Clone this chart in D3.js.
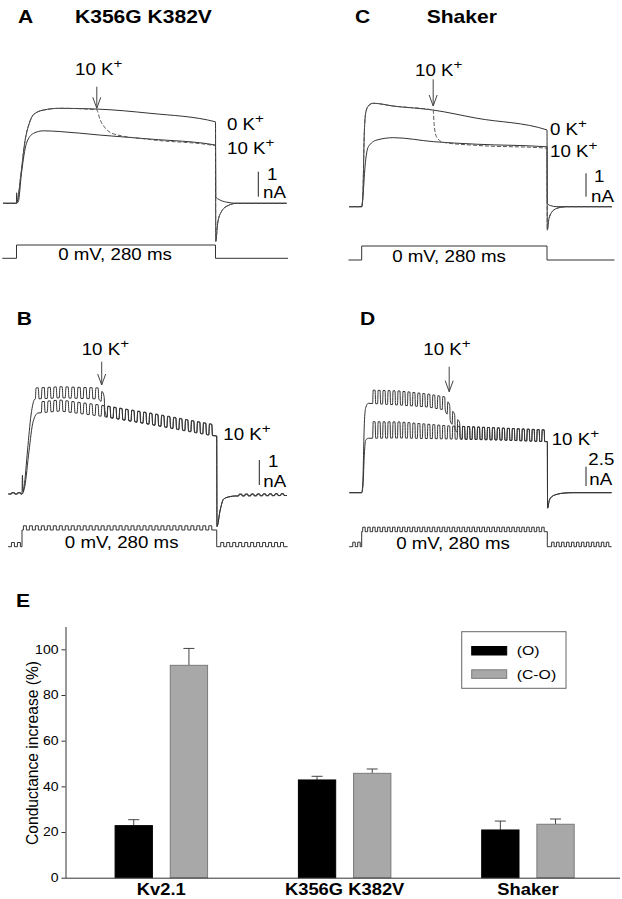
<!DOCTYPE html>
<html>
<head>
<meta charset="utf-8">
<script src="https://cdn.jsdelivr.net/npm/d3@7"></script>
<style>
body { margin: 0; background: #fff; }
svg { display: block; }
text { font-family: "Liberation Sans", Arial, sans-serif; fill: #000; }
</style>
</head>
<body>
<script>
const W = 622, H = 899
const SX = 1.17 // the original figure is stretched sideways, type too

// ---- current traces, [time ms, current nA] ----
// A: K356G K382V, continuous step
const aZeroK = [[-19,0],[0,0],[0.2,0.42],[0.6,0.04],[1.2,0.08],[6,1.1],[12,2.5],[18,3.2],[24,3.55],[38,3.73],[61,3.8],[113,3.77],[188,3.6],[280,3.26],[280.4,0.25],[285,0.15],[295,0.05],[310,0],[380,0]]
const aTenK = [[-19,0],[0,0],[2.5,0.06],[7,1.2],[14,2.4],[24,2.8],[38,2.9],[61,2.87],[117,2.73],[188,2.57],[280,2.33],[280.4,-1.53],[283,-0.8],[288,-0.35],[297,-0.1],[310,0],[380,0]]
const aSwitch = [[-19,0],[0,0],[1.2,0.08],[6,1.1],[12,2.5],[18,3.2],[24,3.55],[38,3.73],[61,3.8],[112.8,3.74],[117.5,3.35],[126.9,2.95],[136.2,2.78],[188,2.55],[280,2.3],[280.4,-1.5],[283,-0.8],[288,-0.35],[297,-0.1],[310,0],[380,0]]

// C: Shaker, continuous step
const cZeroK = [[-19,0],[0,0],[1.5,0.3],[4,3.2],[6,4.0],[10,4.3],[17,4.42],[48,4.3],[108,4.13],[174,3.78],[280,3.28],[280.4,0.15],[285,0.05],[295,0],[378,0]]
const cTenK = [[-19,0],[0,0],[2,0.5],[5,1.7],[10,2.56],[23,2.85],[48,2.95],[108,2.78],[174,2.67],[280,2.56],[280.4,-1.0],[283,-0.5],[290,-0.15],[300,-0.03],[310,0],[378,0]]
const cSwitch = [[-19,0],[0,0],[1.5,0.3],[4,3.2],[6,4.0],[10,4.3],[17,4.42],[48,4.3],[108,4.13],[109.5,3.5],[113,2.99],[123,2.75],[174,2.62],[280,2.5],[280.4,-1.0],[283,-0.5],[290,-0.15],[300,-0.03],[310,0],[378,0]]

// B: K356G K382V, step with pulse train. rise [t, nA] then envelope [t, low, high]
const bSwitchRise = [[-19.7,0],[0,0],[0.6,0.75],[1.4,0.1],[3,0.3],[8,1.76],[13,3.16],[18.7,3.8]]
const bSwitchEnv = [[18.7,3.8,4.24],[54.6,3.85,4.29],[112,3.8,4.24],[117,3.55,4.0],[122,3.08,3.52],[184,2.78,3.22],[280,2.3,2.74]]
const bTenKRise = [[-19.7,0],[0,0],[4,0.3],[10,1.7],[16,2.9],[23,3.24]]
const bTenKEnv = [[23,3.24,3.68],[54.6,3.32,3.76],[112,3.12,3.56],[184,2.8,3.24],[280,2.32,2.76]]
const bBaseEnv = [[-20,0,0.05],[0,0,0.05]]
const bTail = [[280,2.32],[280.4,-1.3],[285,-0.64],[290,-0.2],[300,-0.1],[306,-0.08]]
const bTailEnv = [[306,-0.08,-0.01],[381,-0.06,0.01]]

// D: Shaker, step with pulse train
const dSwitchRise = [[-18.7,0],[0,0],[1.5,1],[4,9],[6,11],[10,11.58]]
const dSwitchEnv = [[10,11.58,13.3],[57.8,11.36,13.17],[100,11.1,12.78],[126,10.71,12.4],[138,8.6,10.4],[151,6.93,8.6],[208.7,6.83,8.38],[280,6.61,8.12]]
const dTenKRise = [[-18.7,0],[0,0],[2,1],[4,5],[6,6.8],[10,7.05]]
const dTenKEnv = [[10,7.05,9.2],[57.8,7.09,9.16],[133,6.96,8.64],[208.7,6.83,8.38],[280,6.61,8.12]]
const dTail = [[280,6.61],[280.4,-2.0],[283,-1.0],[287,-0.5],[295,-0.2],[305,-0.05],[320,0],[377,0]]

// voltage protocols [t, mV]
const stepProtocol = [[-20,-80],[0,-80],[0,0],[280,0],[280,-80],[382,-80]]
const trainPulse = { B: 20, D: 24 }          // mV, test pulses on top
const trainPeriod = { B: 8.6, D: 7.5 }       // ms
const trainPhase = { B: 2, D: 1.5 }

// ---- panel E ----
const groups = ['Kv2.1', 'K356G K382V', 'Shaker']
const series = ['(O)', '(C-O)']
const meanO = [22.8, 42.8, 20.9]
const semO = [2.6, 1.6, 3.9]
const meanCO = [93.0, 45.7, 23.4]
const semCO = [7.4, 1.9, 2.3]
const yTicks = [0, 20, 40, 60, 80, 100]

const svg = d3.select('body').append('svg').attr('width', W).attr('height', H)

function txt(g, x, y, s, o = {}) {
  return g.append('text')
    .attr('transform', `translate(${x},${y}) scale(${SX},1)`)
    .attr('font-size', o.size || 16)
    .attr('font-weight', o.bold ? 'bold' : null)
    .attr('text-anchor', o.anchor || 'start')
    .text(s)
}
function kLabel(g, x, y, s) {
  const t = txt(g, x, y, s + ' K')
  t.append('tspan').attr('dy', -7).attr('font-size', 13).text('+')
}

// square pulses riding on an envelope
function pulses(env, t0, t1, per, phase, duty, edge) {
  const tt = env.map(d => d[0])
  const lo = d3.scaleLinear().domain(tt).range(env.map(d => d[1])).clamp(true)
  const hi = d3.scaleLinear().domain(tt).range(env.map(d => d[2])).clamp(true)
  const out = []
  for (let ts = phase + Math.ceil((t0 - phase) / per) * per; ts + duty * per + edge <= t1; ts += per) {
    const te = ts + duty * per
    out.push([ts, lo(ts)], [ts + edge, hi(ts + edge)], [te, hi(te)], [te + edge, lo(te + edge)])
  }
  return out
}

const panels = {
  A: { x0: 16.5, kx: 0.7107, y0: 203.3, ky: 25, v0: 258.3, v1: 245 },
  C: { x0: 361.7, kx: 0.6618, y0: 206.7, ky: 23.4, v0: 260, v1: 246 },
  B: { x0: 22, kx: 0.6954, y0: 494, ky: 25, v0: 546.7, v1: 530 },
  D: { x0: 361.7, kx: 0.6629, y0: 492.7, ky: 7.72, v0: 546.7, v1: 531.7 }
}
function scales(p) {
  return {
    x: d3.scaleLinear().domain([0, 280]).range([p.x0, p.x0 + 280 * p.kx]),
    y: d3.scaleLinear().domain([0, 1]).range([p.y0, p.y0 - p.ky]),
    v: d3.scaleLinear().domain([-80, 0]).range([p.v0, p.v1])
  }
}
function drawTrace(g, s, pts, dashed) {
  g.append('path')
    .datum(pts)
    .attr('d', d3.line().x(d => s.x(d[0])).y(d => s.y(d[1])).curve(d3.curveMonotoneX))
    .attr('fill', 'none')
    .attr('stroke', dashed ? '#555' : '#333')
    .attr('stroke-width', 1)
    .attr('stroke-dasharray', dashed ? '4,2' : null)
}
function drawVolt(g, s, pts) {
  g.append('path')
    .datum(pts)
    .attr('d', d3.line().x(d => s.x(d[0])).y(d => s.v(d[1])))
    .attr('fill', 'none').attr('stroke', '#333').attr('stroke-width', 1)
}
function arrow(g, x, yTop, yTip) {
  g.append('path')
    .attr('d', `M${x},${yTop}V${yTip}M${x - 4},${yTip - 11}L${x},${yTip}L${x + 4},${yTip - 11}`)
    .attr('fill', 'none').attr('stroke', '#444').attr('stroke-width', 1)
}
function scaleBar(g, s, x, yBottom, nA, lines) {
  g.append('line')
    .attr('x1', x).attr('x2', x)
    .attr('y1', yBottom).attr('y2', yBottom - (s.y(0) - s.y(nA)))
    .attr('stroke', '#222').attr('stroke-width', 1)
  lines.forEach(l => txt(g, l[0], l[1], l[2]))
}

// ---------- A ----------
{
  const g = svg.append('g'), s = scales(panels.A)
  txt(g, 18, 22.7, 'A', { size: 18, bold: true })
  txt(g, 75, 22.7, 'K356G K382V', { size: 18, bold: true })
  drawTrace(g, s, aZeroK)
  drawTrace(g, s, aTenK)
  drawTrace(g, s, aSwitch, true)
  arrow(g, s.x(113), 86.7, 108.3)
  kLabel(g, 75, 75, '10')
  kLabel(g, 227, 130, '0')
  kLabel(g, 227, 154, '10')
  scaleBar(g, s, 258.3, 196.7, 1, [[267, 180, '1'], [263, 198.3, 'nA']])
  drawVolt(g, s, stepProtocol)
  txt(g, 115, 260, '0 mV, 280 ms', { anchor: 'middle' })
}

// ---------- C ----------
{
  const g = svg.append('g'), s = scales(panels.C)
  txt(g, 355, 22.7, 'C', { size: 18, bold: true })
  txt(g, 426.7, 22.7, 'Shaker', { size: 18, bold: true })
  drawTrace(g, s, cZeroK)
  drawTrace(g, s, cTenK)
  drawTrace(g, s, cSwitch, true)
  arrow(g, s.x(108), 79.3, 106)
  kLabel(g, 415, 76, '10')
  kLabel(g, 550, 135, '0')
  kLabel(g, 550, 156.7, '10')
  scaleBar(g, s, 586, 196.7, 1, [[594, 181.7, '1'], [591, 201.7, 'nA']])
  drawVolt(g, s, stepProtocol)
  txt(g, 449, 261.7, '0 mV, 280 ms', { anchor: 'middle' })
}

// ---------- B ----------
{
  const g = svg.append('g'), s = scales(panels.B)
  const P = trainPeriod.B, ph = trainPhase.B
  txt(g, 16.7, 325, 'B', { size: 18, bold: true })
  const pre = [[-19.7, 0], ...pulses(bBaseEnv, -19.5, -0.3, P, ph, 0.5, 0.5)]
  const tail = [...bTail, ...pulses(bTailEnv, 306.5, 381, P, ph, 0.5, 0.8), [381, -0.06]]
  drawTrace(g, s, [...pre, ...bTenKRise.slice(1), ...pulses(bTenKEnv, 23.5, 279.5, P, ph, 0.5, 1.0), ...tail])
  drawTrace(g, s, [...pre, ...bSwitchRise.slice(1), ...pulses(bSwitchEnv, 19.2, 279.5, P, ph, 0.5, 1.0), ...tail])
  arrow(g, s.x(114.6), 361.7, 385)
  kLabel(g, 81.7, 355, '10')
  kLabel(g, 223.3, 440, '10')
  scaleBar(g, s, 259.3, 485, 1, [[268, 466.7, '1'], [263.3, 486.7, 'nA']])
  const hp = trainPulse.B
  const volt = [[-20, -80], ...pulses([[-20, -80, -80 + hp], [0, -80, -80 + hp]], -19.5, -0.5, P, ph, 0.5, 0),
    [0, -80], [0, 0], ...pulses([[0, 0, hp], [280, 0, hp]], 0.5, 279.5, P, ph, 0.5, 0),
    [280, 0], [280, -80], ...pulses([[280, -80, -80 + hp], [382, -80, -80 + hp]], 281, 381, P, ph, 0.5, 0), [382, -80]]
  drawVolt(g, s, volt)
  txt(g, 121.7, 548.3, '0 mV, 280 ms', { anchor: 'middle' })
}

// ---------- D ----------
{
  const g = svg.append('g'), s = scales(panels.D)
  const P = trainPeriod.D, ph = trainPhase.D
  txt(g, 360, 325, 'D', { size: 18, bold: true })
  drawTrace(g, s, [...dTenKRise, ...pulses(dTenKEnv, 10.5, 279.5, P, ph, 0.5, 0.8), ...dTail])
  drawTrace(g, s, [...dSwitchRise, ...pulses(dSwitchEnv, 10.5, 279.5, P, ph, 0.5, 0.8), ...dTail])
  arrow(g, s.x(132), 366.7, 391.7)
  kLabel(g, 423.3, 355, '10')
  kLabel(g, 551.7, 445, '10')
  scaleBar(g, s, 586, 486, 2.5, [[588.3, 465, '2.5'], [589.3, 485, 'nA']])
  const hp = trainPulse.D
  const volt = [[-19, -80], ...pulses([[-20, -80, -80 + hp], [0, -80, -80 + hp]], -18.5, -0.5, P, ph, 0.5, 0),
    [0, -80], [0, 0], ...pulses([[0, 0, hp], [280, 0, hp]], 0.5, 279.5, P, ph, 0.5, 0),
    [280, 0], [280, -80], ...pulses([[280, -80, -80 + hp], [378, -80, -80 + hp]], 281, 377, P, ph, 0.5, 0), [377, -80]]
  drawVolt(g, s, volt)
  txt(g, 453, 549.3, '0 mV, 280 ms', { anchor: 'middle' })
}

// ---------- E ----------
{
  const g = svg.append('g')
  txt(g, 16, 607, 'E', { size: 18, bold: true })
  const y = d3.scaleLinear().domain([0, 110]).range([877.7, 626.5])
  const x0 = d3.scaleBand().domain(groups).range([65.5, 620]).paddingInner(0.49).paddingOuter(0.2575).align(0.52)
  const x1 = d3.scaleBand().domain(series).range([0, x0.bandwidth()]).paddingInner(0.306)
  const rows = groups.map((gname, i) => ({ g: gname, vals: [
    { k: series[0], m: meanO[i], e: semO[i] },
    { k: series[1], m: meanCO[i], e: semCO[i] }] }))
  const fill = d3.scaleOrdinal().domain(series).range(['#000', '#a8a8a8'])
  const edge = d3.scaleOrdinal().domain(series).range(['#000', '#7a7a7a'])

  const bars = g.selectAll('.grp').data(rows).enter().append('g')
    .attr('transform', d => `translate(${x0(d.g)},0)`)
  const b = bars.selectAll('g').data(d => d.vals).enter().append('g')
  b.append('line')
    .attr('x1', d => x1(d.k) + x1.bandwidth() / 2).attr('x2', d => x1(d.k) + x1.bandwidth() / 2)
    .attr('y1', d => y(d.m)).attr('y2', d => y(d.m + d.e))
    .attr('stroke', '#444')
  b.append('line')
    .attr('x1', d => x1(d.k) + x1.bandwidth() / 2 - 5.5).attr('x2', d => x1(d.k) + x1.bandwidth() / 2 + 5.5)
    .attr('y1', d => y(d.m + d.e)).attr('y2', d => y(d.m + d.e))
    .attr('stroke', '#444')
  b.append('rect')
    .attr('x', d => x1(d.k) + 0.5).attr('width', x1.bandwidth() - 1)
    .attr('y', d => y(d.m)).attr('height', d => y(0) - y(d.m))
    .attr('fill', d => fill(d.k)).attr('stroke', d => edge(d.k))

  const ya = g.append('g').attr('transform', 'translate(65.5,0)')
    .call(d3.axisLeft(y).tickValues(yTicks).tickSize(4).tickSizeOuter(0).tickPadding(2))
  ya.attr('color', '#333')
  ya.selectAll('text').attr('font-size', 12).attr('font-family', null).attr('fill', '#000')
    .attr('transform', `scale(${SX},1)`)

  const xa = g.append('g').attr('transform', 'translate(0,877.7)')
    .call(d3.axisBottom(x0).tickSize(0).tickPadding(6.4))
  xa.attr('color', '#333')
  xa.select('.domain').attr('d', 'M65.5,0.5H620')
  xa.selectAll('.tick text').attr('font-size', 15.7).attr('font-weight', 'bold').attr('font-family', null)
    .attr('fill', '#000').attr('transform', `scale(${SX},1)`)

  g.append('text')
    .attr('transform', `translate(37.5,753) scale(${SX},1) rotate(-90)`)
    .attr('text-anchor', 'middle').attr('font-size', 13.5)
    .attr('textLength', 184).attr('lengthAdjust', 'spacingAndGlyphs')
    .text('Conductance increase (%)')

  // legend
  const lg = g.append('g')
  lg.append('rect').attr('x', 461.7).attr('y', 631.7).attr('width', 104.3).attr('height', 56.6)
    .attr('fill', '#fff').attr('stroke', '#666')
  const ly = d3.scaleBand().domain(series).range([643, 678]).paddingInner(0.5)
  lg.selectAll('.sw').data(series).enter().append('rect')
    .attr('x', 471.7).attr('width', 35).attr('y', d => ly(d) + 3.5).attr('height', 8.5)
    .attr('fill', d => fill(d)).attr('stroke', d => edge(d))
  series.forEach(d => txt(lg, 516.7, ly(d) + 12.2, d, { size: 13.5 }))
}
</script>
</body>
</html>
